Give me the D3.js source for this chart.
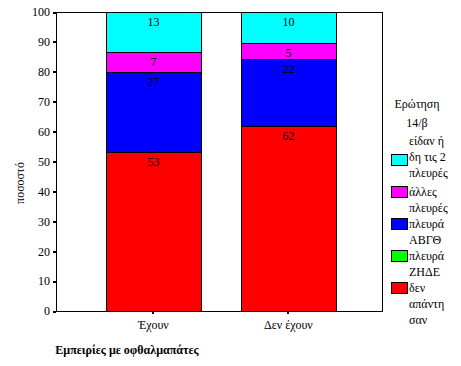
<!DOCTYPE html>
<html>
<head>
<meta charset="utf-8">
<script src="https://cdn.jsdelivr.net/npm/d3@7"></script>
<style>
  body { margin: 0; background: #fff; }
  svg text { font-family: "Liberation Serif", "Times New Roman", serif; font-size: 12px; fill: #000; }
</style>
</head>
<body>
<div id="chart"></div>
<script>
// Data
const categories = ["Έχουν", "Δεν έχουν"];
const noAnswer = [53.3, 61.8];
const sideZHDE = [0, 0];
const sideABGTH = [26.7, 22.4];
const otherSides = [6.7, 5.4];
const bothSides = [13.3, 10.4];
const yTicks = [0, 10, 20, 30, 40, 50, 60, 70, 80, 90, 100];

const seriesKeys = ["noAnswer", "sideZHDE", "sideABGTH", "otherSides", "bothSides"];
const seriesColors = ["#ff0000", "#00ff00", "#0000ff", "#ff00ff", "#00ffff"];
const seriesLabels = [
  ["δεν", "απάντη", "σαν"],
  ["πλευρά", "ΖΗΔΕ"],
  ["πλευρά", "ΑΒΓΘ"],
  ["άλλες", "πλευρές"],
  ["είδαν ή", "δη τις 2", "πλευρές"]
];

const rows = categories.map((c, i) => ({
  cat: c,
  noAnswer: noAnswer[i],
  sideZHDE: sideZHDE[i],
  sideABGTH: sideABGTH[i],
  otherSides: otherSides[i],
  bothSides: bothSides[i]
}));

const width = 461, height = 366;
const plot = { left: 56, right: 382, top: 12, bottom: 311 };

const svg = d3.select("#chart").append("svg")
  .attr("width", width)
  .attr("height", height)
  .attr("shape-rendering", "crispEdges");

// Scales
const x = d3.scaleBand()
  .domain(categories)
  .range([plot.left, plot.right])
  .paddingInner(0.296)
  .paddingOuter(0.355)
  .align(0.52);

const y = d3.scaleLinear()
  .domain([0, 100])
  .range([plot.bottom, plot.top]);

const stacked = d3.stack().keys(seriesKeys)(rows);

// Bars
const layers = svg.append("g")
  .selectAll("g")
  .data(stacked)
  .join("g")
  .attr("fill", (d, i) => seriesColors[i]);

layers.selectAll("rect")
  .data(d => d.filter(s => s[1] - s[0] > 0))
  .join("rect")
  .attr("x", d => Math.round(x(d.data.cat)) + 0.5)
  .attr("y", d => Math.round(y(d[1])) + 0.5)
  .attr("width", Math.round(x.bandwidth()))
  .attr("height", d => Math.round(y(d[0])) - Math.round(y(d[1])))
  .attr("stroke", "#000")
  .attr("stroke-width", 1);

// Segment value labels
layers.selectAll("text")
  .data(d => d.filter(s => s[1] - s[0] > 0))
  .join("text")
  .attr("x", d => x(d.data.cat) + x.bandwidth() / 2)
  .attr("y", d => y(d[1]) + 14)
  .attr("text-anchor", "middle")
  .text(d => d3.format(".0f")(d[1] - d[0]));

// Frame
svg.append("rect")
  .attr("x", plot.left + 0.5)
  .attr("y", plot.top + 0.5)
  .attr("width", plot.right - plot.left)
  .attr("height", plot.bottom - plot.top)
  .attr("fill", "none")
  .attr("stroke", "#000");

// Y axis
const yAxis = svg.append("g")
  .attr("transform", `translate(${plot.left},0)`)
  .call(d3.axisLeft(y).tickValues(yTicks).tickSize(3).tickPadding(3));
yAxis.select(".domain").remove();
yAxis.selectAll(".tick line").attr("stroke-width", 2);
yAxis.selectAll("text").attr("font-family", null).attr("font-size", null);

// X axis
const xAxis = svg.append("g")
  .attr("transform", `translate(0,${plot.bottom})`)
  .call(d3.axisBottom(x).tickSize(3).tickPadding(6));
xAxis.select(".domain").remove();
xAxis.selectAll(".tick line").attr("stroke-width", 2);
xAxis.selectAll("text").attr("font-family", null).attr("font-size", null);

// Axis titles
svg.append("text")
  .attr("transform", "translate(24,183) rotate(-90)")
  .attr("text-anchor", "middle")
  .text("ποσοστό");

svg.append("text")
  .attr("x", 127)
  .attr("y", 354)
  .attr("text-anchor", "middle")
  .attr("font-weight", "bold")
  .text("Εμπειρίες με οφθαλμαπάτες");

// Legend
const legend = svg.append("g");
legend.append("text")
  .attr("x", 417).attr("y", 108)
  .attr("text-anchor", "middle")
  .text("Ερώτηση");
legend.append("text")
  .attr("x", 417).attr("y", 127)
  .attr("text-anchor", "middle")
  .text("14/β");

// top-down order in the legend
const legendOrder = [4, 3, 2, 1, 0];
legendOrder.forEach((si, k) => {
  const cy = 160 + k * 32;
  const lines = seriesLabels[si];
  const firstLine = k === 0 ? cy - 19 : cy;
  legend.append("rect")
    .attr("x", 391.5).attr("y", Math.round(cy - 6) + 0.5)
    .attr("width", 16).attr("height", 11)
    .attr("fill", seriesColors[si])
    .attr("stroke", "#000");
  lines.forEach((ln, j) => {
    legend.append("text")
      .attr("x", 409)
      .attr("y", firstLine + j * 16 + 4)
      .text(ln);
  });
});
</script>
</body>
</html>
